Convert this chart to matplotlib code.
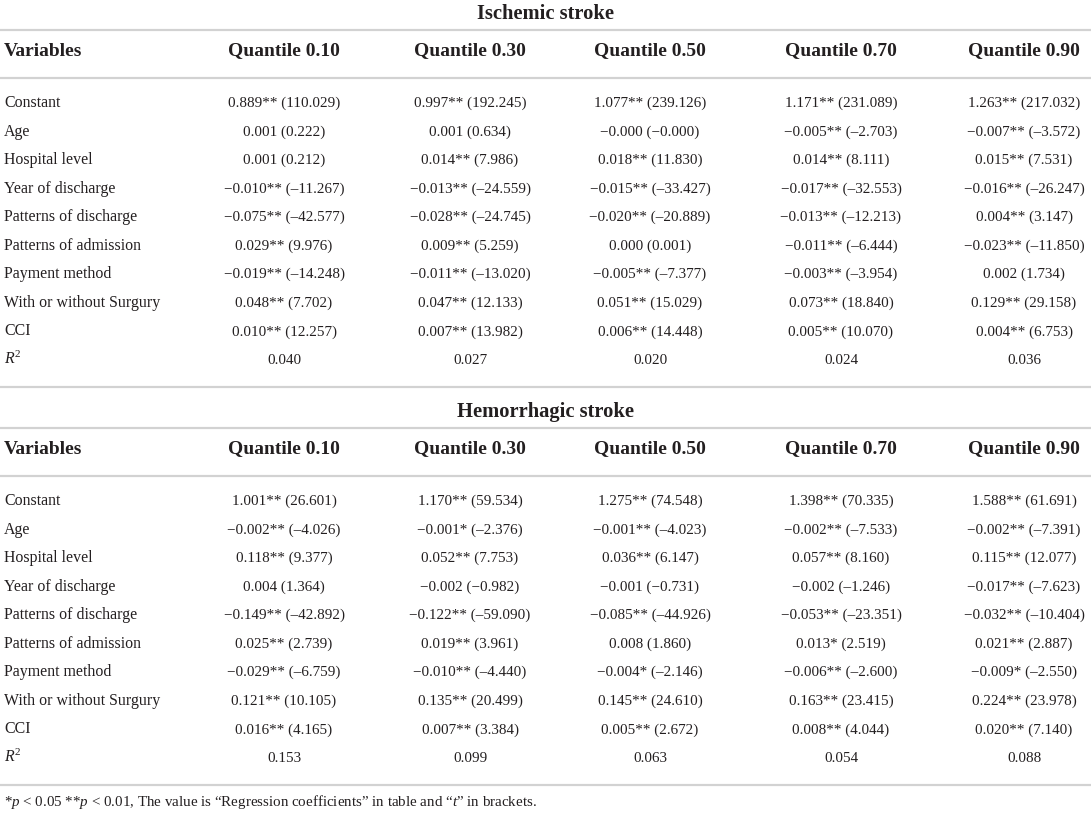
import matplotlib.pyplot as plt

plt.rcParams['font.family'] = ['Liberation Serif', 'DejaVu Serif']
plt.rcParams['mathtext.fontset'] = 'custom'
plt.rcParams['mathtext.rm'] = 'Liberation Serif'
plt.rcParams['mathtext.it'] = 'Liberation Serif:italic'

variables = ['Constant', 'Age', 'Hospital level', 'Year of discharge',
             'Patterns of discharge', 'Patterns of admission', 'Payment method',
             'With or without Surgury', 'CCI']
quantiles = ['Quantile 0.10', 'Quantile 0.30', 'Quantile 0.50',
             'Quantile 0.70', 'Quantile 0.90']

# ischemic stroke: coefficient, significance, t value
isch_coef = [
    ['0.889', '0.997', '1.077', '1.171', '1.263'],
    ['0.001', '0.001', '\u22120.000', '\u22120.005', '\u22120.007'],
    ['0.001', '0.014', '0.018', '0.014', '0.015'],
    ['\u22120.010', '\u22120.013', '\u22120.015', '\u22120.017', '\u22120.016'],
    ['\u22120.075', '\u22120.028', '\u22120.020', '\u22120.013', '0.004'],
    ['0.029', '0.009', '0.000', '\u22120.011', '\u22120.023'],
    ['\u22120.019', '\u22120.011', '\u22120.005', '\u22120.003', '0.002'],
    ['0.048', '0.047', '0.051', '0.073', '0.129'],
    ['0.010', '0.007', '0.006', '0.005', '0.004'],
]
isch_sig = [
    ['**', '**', '**', '**', '**'],
    ['', '', '', '**', '**'],
    ['', '**', '**', '**', '**'],
    ['**', '**', '**', '**', '**'],
    ['**', '**', '**', '**', '**'],
    ['**', '**', '', '**', '**'],
    ['**', '**', '**', '**', ''],
    ['**', '**', '**', '**', '**'],
    ['**', '**', '**', '**', '**'],
]
isch_t = [
    ['110.029', '192.245', '239.126', '231.089', '217.032'],
    ['0.222', '0.634', '\u22120.000', '\u20132.703', '\u20133.572'],
    ['0.212', '7.986', '11.830', '8.111', '7.531'],
    ['\u201311.267', '\u201324.559', '\u201333.427', '\u201332.553', '\u201326.247'],
    ['\u201342.577', '\u201324.745', '\u201320.889', '\u201312.213', '3.147'],
    ['9.976', '5.259', '0.001', '\u20136.444', '\u201311.850'],
    ['\u201314.248', '\u201313.020', '\u20137.377', '\u20133.954', '1.734'],
    ['7.702', '12.133', '15.029', '18.840', '29.158'],
    ['12.257', '13.982', '14.448', '10.070', '6.753'],
]
isch_r2 = ['0.040', '0.027', '0.020', '0.024', '0.036']

# hemorrhagic stroke
hem_coef = [
    ['1.001', '1.170', '1.275', '1.398', '1.588'],
    ['\u22120.002', '\u22120.001', '\u22120.001', '\u22120.002', '\u22120.002'],
    ['0.118', '0.052', '0.036', '0.057', '0.115'],
    ['0.004', '\u22120.002', '\u22120.001', '\u22120.002', '\u22120.017'],
    ['\u22120.149', '\u22120.122', '\u22120.085', '\u22120.053', '\u22120.032'],
    ['0.025', '0.019', '0.008', '0.013', '0.021'],
    ['\u22120.029', '\u22120.010', '\u22120.004', '\u22120.006', '\u22120.009'],
    ['0.121', '0.135', '0.145', '0.163', '0.224'],
    ['0.016', '0.007', '0.005', '0.008', '0.020'],
]
hem_sig = [
    ['**', '**', '**', '**', '**'],
    ['**', '*', '**', '**', '**'],
    ['**', '**', '**', '**', '**'],
    ['', '', '', '', '**'],
    ['**', '**', '**', '**', '**'],
    ['**', '**', '', '*', '**'],
    ['**', '**', '*', '**', '*'],
    ['**', '**', '**', '**', '**'],
    ['**', '**', '**', '**', '**'],
]
hem_t = [
    ['26.601', '59.534', '74.548', '70.335', '61.691'],
    ['\u20134.026', '\u20132.376', '\u20134.023', '\u20137.533', '\u20137.391'],
    ['9.377', '7.753', '6.147', '8.160', '12.077'],
    ['1.364', '\u22120.982', '\u22120.731', '\u20131.246', '\u20137.623'],
    ['\u201342.892', '\u201359.090', '\u201344.926', '\u201323.351', '\u201310.404'],
    ['2.739', '3.961', '1.860', '2.519', '2.887'],
    ['\u20136.759', '\u20134.440', '\u20132.146', '\u20132.600', '\u20132.550'],
    ['10.105', '20.499', '24.610', '23.415', '23.978'],
    ['4.165', '3.384', '2.672', '4.044', '7.140'],
]
hem_r2 = ['0.153', '0.099', '0.063', '0.054', '0.088']

W, H = 1091, 813
fig = plt.figure(figsize=(W / 100, H / 100), dpi=100)
ax = fig.add_axes([0, 0, 1, 1])
ax.set_xlim(0, W)
ax.set_ylim(H, 0)
ax.axis('off')

ink = '#231f20'
rule = '#d2d2d2'
col_x = [284, 470, 650, 841, 1024]
left = 4
step = 28.55


def block(top, title, coef, sig, tval, r2):
    ax.text(W / 2, top + 19, title, ha='center', va='baseline',
            fontsize=14.8, fontweight='bold', color=ink)
    ax.axhline(top + 30, color=rule, lw=1.6)
    ax.text(left, top + 55.5, 'Variables', ha='left', va='baseline',
            fontsize=14, fontweight='bold', color=ink)
    for x, q in zip(col_x, quantiles):
        ax.text(x, top + 55.5, q, ha='center', va='baseline',
                fontsize=14, fontweight='bold', color=ink)
    ax.axhline(top + 78, color=rule, lw=1.6)
    y0 = top + 107
    for i, name in enumerate(variables):
        y = y0 + i * step
        ax.text(left, y, name, ha='left', va='baseline', fontsize=11.4, color=ink)
        for j, x in enumerate(col_x):
            s = coef[i][j] + sig[i][j] + ' (' + tval[i][j] + ')'
            ax.text(x, y, s, ha='center', va='baseline', fontsize=10.9, color=ink)
    y = y0 + len(variables) * step
    ax.text(left, y, '$R^{2}$', ha='left', va='baseline', fontsize=11.4, color=ink)
    for x, v in zip(col_x, r2):
        ax.text(x, y, v, ha='center', va='baseline', fontsize=10.9, color=ink)
    ax.axhline(y + 23, color=rule, lw=1.6)


block(0, 'Ischemic stroke', isch_coef, isch_sig, isch_t, isch_r2)
block(398, 'Hemorrhagic stroke', hem_coef, hem_sig, hem_t, hem_r2)

ax.text(left, 806, '*$p$ < 0.05 **$p$ < 0.01, The value is \u201cRegression '
        'coefficients\u201d in table and \u201c$t$\u201d in brackets.',
        ha='left', va='baseline', fontsize=10.8, color=ink)

fig.savefig('out.png', dpi=100)
